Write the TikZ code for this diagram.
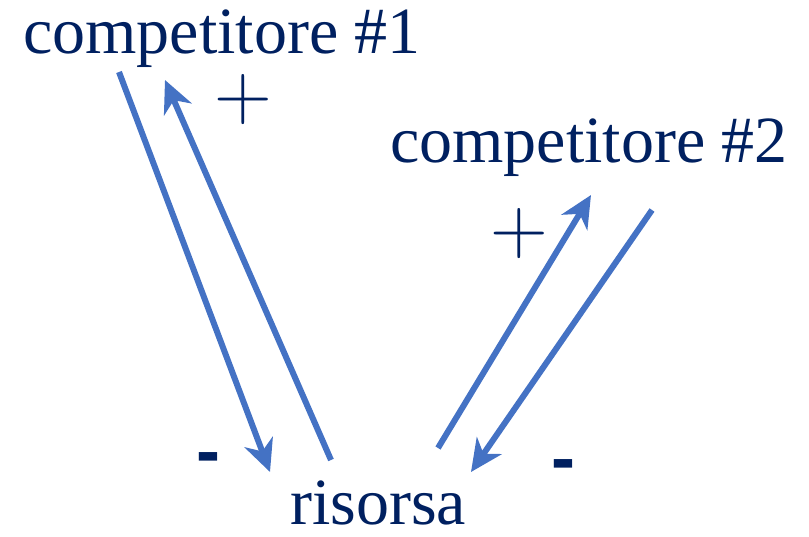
\documentclass[tikz,border=0pt]{standalone}
\usepackage{fontspec}
\setmainfont{Liberation Serif}
\newfontfamily\dashfont{Liberation Sans}
\usetikzlibrary{arrows.meta}
\definecolor{navy}{HTML}{002060}
\definecolor{linkblue}{HTML}{4472C4}
\begin{document}
\begin{tikzpicture}[x=0.5pt, y=-0.5pt,
    lab/.style={anchor=base, text=navy, inner sep=0pt, font=\fontsize{33}{36}\selectfont},
    sgn/.style={text=navy, inner sep=0pt},
    flow/.style={draw=linkblue, line width=3pt, -{Stealth[length=16pt, width=15pt, inset=5pt]}}]
    \useasboundingbox (0,0) rectangle (809,536);
    \node[lab] (c1) at (222, 53) {competitore \#1};
    \node[lab] (c2) at (589, 162) {competitore \#2};
    \node[lab] (r) at (378, 524) {risorsa};
    \node[sgn, font=\fontfamily{lmr}\fontsize{40}{40}\selectfont] (p1) at (243, 100) {+};
    \node[sgn, font=\fontfamily{lmr}\fontsize{40}{40}\selectfont] (p2) at (519, 234) {+};
    \node[sgn, font=\dashfont\bfseries\fontsize{36}{36}\selectfont] (m1) at (208, 464) {-};
    \node[sgn, font=\dashfont\bfseries\fontsize{36}{36}\selectfont] (m2) at (563, 471) {-};
    \coordinate (a1) at (119, 72);
    \coordinate (a2) at (270, 472);
    \coordinate (b1) at (331, 460);
    \coordinate (b2) at (165, 80);
    \coordinate (d1) at (438, 448);
    \coordinate (d2) at (591, 195);
    \coordinate (e1) at (652, 210);
    \coordinate (e2) at (471, 472);
    \draw [flow] (a1) to (a2);
    \draw [flow] (b1) to (b2);
    \draw [flow] (d1) to (d2);
    \draw [flow] (e1) to (e2);
\end{tikzpicture}
\end{document}
